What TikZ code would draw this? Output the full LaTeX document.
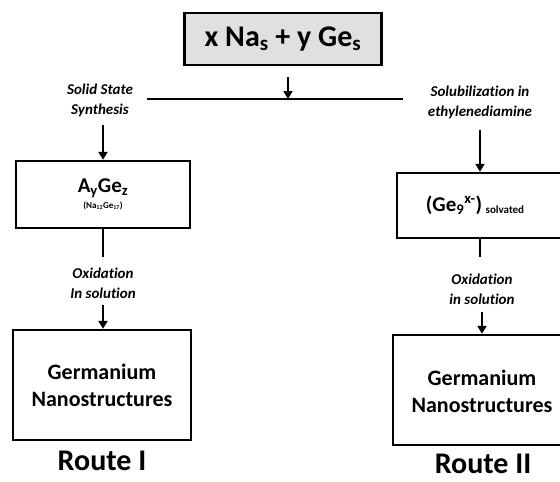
\documentclass[tikz,border=0pt]{standalone}
\usepackage{fontspec}
\setmainfont[Ligatures={NoCommon}]{Carlito}
\usetikzlibrary{arrows.meta}
\tikzset{
  box/.style={draw=black, line width=2.4pt, fill=white, inner sep=0pt, font=\bfseries},
  lbl/.style={font=\bfseries\itshape\fontsize{15}{20}\selectfont, align=center},
  arr/.style={line width=2pt, -{Triangle[width=9pt,length=8pt]}},
  ln/.style={line width=2pt},
  route/.style={font=\bfseries\fontsize{30}{32}\selectfont}
}
\begin{document}
\begin{tikzpicture}[x=1pt,y=-1pt]
\useasboundingbox (0,0) rectangle (560,482);
\clip (0,0) rectangle (560,482);
% top
\node[box, fill=black!12, minimum width=197pt, minimum height=52pt, font=\bfseries\fontsize{30}{32}\selectfont] (top) at (283,39) {x Na\textsubscript{s} + y Ge\textsubscript{s}};
\coordinate (t1) at (288,77);
\coordinate (t2) at (288,99);
\draw[arr] (t1) -- (t2);
\coordinate (hl) at (147,99);
\coordinate (hr) at (403,99);
\draw[ln] (hl) -- (hr);
% left route
\node[lbl] (ls) at (100,100) {Solid State\\Synthesis};
\node[box, minimum width=174pt, minimum height=67pt, align=center] (a) at (103,194.5) {{\fontsize{21}{22}\selectfont A\textsubscript{y}Ge\textsubscript{z}}\\[3pt]{\fontsize{9}{10}\selectfont (Na\textsubscript{12}Ge\textsubscript{17})}};
\coordinate (la1) at (103,125);
\draw[arr] (la1) -- (a.north);
\coordinate (lb1) at (103,257);
\draw[ln] (a.south) -- (lb1);
\node[lbl] (lo) at (103,283) {Oxidation\\In solution};
\node[box, minimum width=178pt, minimum height=110pt, align=center, font=\bfseries\fontsize{22}{27}\selectfont] (g1) at (102,385) {Germanium\\Nanostructures};
\coordinate (lc1) at (103,305);
\draw[arr] (lc1) -- (g1.north -| lc1);
\node[route] (r1) at (102,461) {Route I};
% right route
\node[lbl] (rs) at (480,102) {Solubilization in\\ethylenediamine};
\node[box, minimum width=170pt, minimum height=65pt, anchor=west] (b) at (396,205.5) {};
\node[font=\bfseries\fontsize{21}{22}\selectfont] (bt) at (475,205) {(Ge\textsubscript{9}\textsuperscript{x-})\,{\fontsize{11}{12}\selectfont\raisebox{-0.45ex}{solvated}}};
\coordinate (ra1) at (480,130);
\draw[arr] (ra1) -- (ra1 |- b.north);
\coordinate (rb1) at (480,257);
\draw[ln] (rb1 |- b.south) -- (rb1);
\node[lbl] (ro) at (482,289) {Oxidation\\in solution};
\node[box, minimum width=180pt, minimum height=110pt, anchor=west] (g2) at (392,390) {};
\node[font=\bfseries\fontsize{22}{27}\selectfont, align=center] (g2t) at (482,391) {Germanium\\Nanostructures};
\coordinate (rc1) at (482,312);
\draw[arr] (rc1) -- (rc1 |- g2.north);
\node[route] (r2) at (483,464) {Route II};
\end{tikzpicture}
\end{document}
